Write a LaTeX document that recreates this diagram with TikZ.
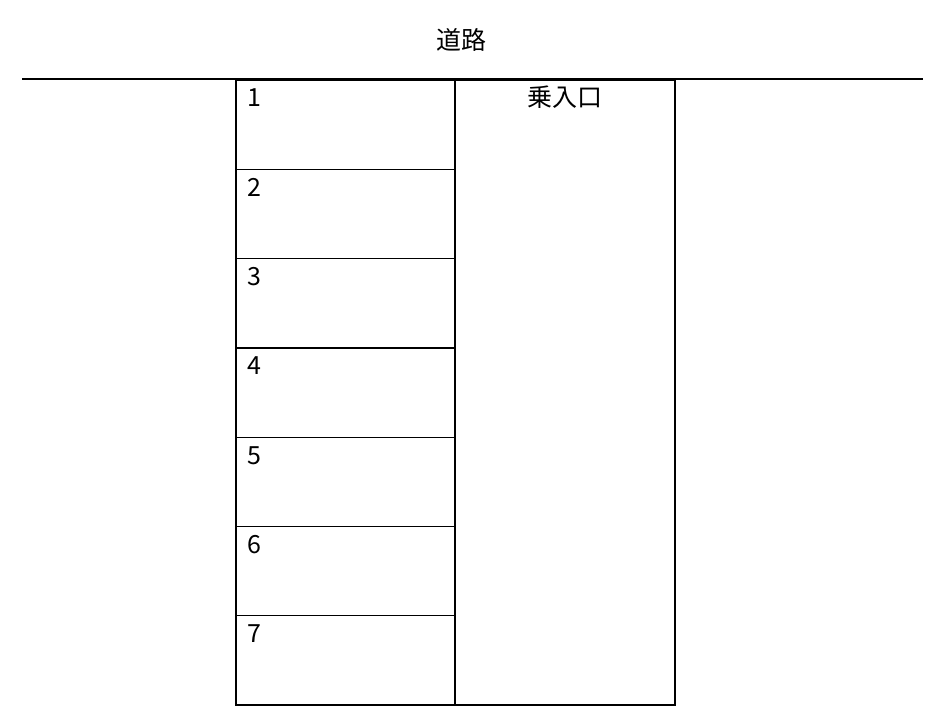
\documentclass[tikz,border=0pt]{standalone}
\usepackage{fontspec}
\setmainfont{Noto Sans CJK JP}
\begin{document}
\begin{tikzpicture}[x=1pt,y=1pt,
	every node/.style={inner sep=0pt,font=\fontsize{25}{30}\selectfont},
	spaceline/.style={line width=1.3pt}]
		\useasboundingbox (0,0) rectangle (940,720);
		% road
		\draw[line width=2pt] (22,641) -- (923,641);
		\node[anchor=base] (road) at (461,670) {道路};
		% parking spaces and entrance
		\draw[spaceline] (236,15) rectangle (675,640);
		\draw[spaceline] (455,15) -- (455,640);
		\foreach \i in {1, 2, 3, 4, 5, 6}{
			\draw[spaceline] (236,{640-89.29*\i}) -- (455,{640-89.29*\i});
		}
		\foreach \i in {1, 2, 3, 4, 5, 6, 7}{
			\node[anchor=base west] (space\i) at (247,{613-89.29*(\i-1)}) {\i};
		}
		\node[anchor=base] (entrance) at (565,613) {乗入口};
		\end{tikzpicture}
\end{document}
